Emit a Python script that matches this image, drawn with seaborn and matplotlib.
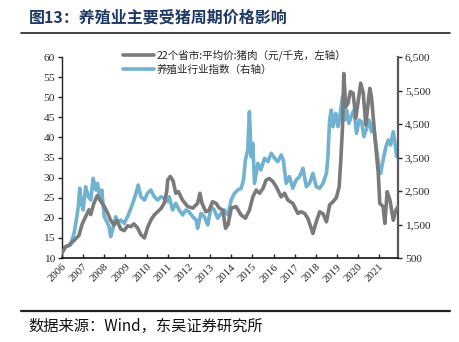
import matplotlib
matplotlib.use("Agg")
import matplotlib.pyplot as plt
import seaborn as sns
import pandas as pd
from matplotlib.lines import Line2D
from matplotlib.ticker import FuncFormatter

# ---- data (decimal year, value) ----
pork_t = [2006.0, 2006.17, 2006.33, 2006.5, 2006.65, 2006.8, 2006.96, 2007.12, 2007.28, 2007.36,
          2007.5, 2007.67, 2007.83, 2008.0, 2008.15, 2008.3, 2008.46, 2008.6, 2008.78, 2008.94,
          2009.1, 2009.26, 2009.4, 2009.57, 2009.73, 2009.9, 2010.04, 2010.2, 2010.36, 2010.52,
          2010.68, 2010.83, 2010.95, 2011.0, 2011.12, 2011.25, 2011.38, 2011.5, 2011.7, 2011.94,
          2012.18, 2012.41, 2012.52, 2012.62, 2012.8, 2012.95, 2013.12, 2013.28, 2013.44, 2013.6,
          2013.73, 2013.85, 2014.0, 2014.23, 2014.47, 2014.67, 2014.86, 2015.02, 2015.18, 2015.34,
          2015.5, 2015.65, 2015.8, 2015.97, 2016.13, 2016.36, 2016.52, 2016.68, 2016.91, 2017.15,
          2017.3, 2017.47, 2017.62, 2017.78, 2017.86, 2018.02, 2018.18, 2018.34, 2018.5, 2018.65,
          2018.81, 2018.97, 2019.1, 2019.18, 2019.26, 2019.32, 2019.41, 2019.52, 2019.63, 2019.76,
          2019.89, 2020.03, 2020.12, 2020.24, 2020.36, 2020.47, 2020.55, 2020.63, 2020.79, 2020.95,
          2021.02, 2021.18, 2021.26, 2021.37, 2021.5, 2021.66, 2021.78, 2021.88]
pork_v = [11.2, 12.8, 13.2, 14.0, 14.8, 15.6, 18.5, 20.3, 22.0, 20.8,
          23.5, 25.5, 24.2, 22.8, 21.3, 19.4, 18.2, 19.4, 17.2, 16.8,
          18.0, 17.8, 18.5, 17.5, 15.8, 15.0, 17.5, 19.4, 20.7, 21.5,
          22.3, 23.6, 26.5, 29.4, 30.3, 29.2, 26.1, 26.5, 24.4, 22.8,
          22.4, 23.6, 26.1, 23.6, 21.5, 21.9, 24.0, 23.6, 22.4, 21.9,
          17.4, 18.3, 22.4, 22.8, 20.7, 19.9, 21.9, 25.2, 26.9, 26.1,
          27.3, 29.4, 29.8, 29.0, 27.7, 25.2, 26.1, 24.4, 23.6, 21.1,
          21.5, 21.1, 19.9, 17.4, 16.1, 19.0, 21.5, 21.0, 19.0, 23.2,
          24.0, 25.0, 27.7, 34.4, 42.7, 55.9, 47.6, 48.5, 51.4, 51.0,
          44.8, 50.1, 53.5, 51.0, 43.1, 48.5, 52.2, 50.0, 40.2, 31.1,
          23.6, 22.8, 18.6, 26.5, 24.4, 19.4, 21.9, 22.8]

idx_t = [2006.0, 2006.2, 2006.4, 2006.57, 2006.68, 2006.77, 2006.84, 2006.92, 2007.0, 2007.12,
         2007.25, 2007.36, 2007.47, 2007.6, 2007.68, 2007.79, 2007.88, 2008.0, 2008.12, 2008.23,
         2008.3, 2008.39, 2008.54, 2008.62, 2008.78, 2008.94, 2009.1, 2009.26, 2009.37, 2009.5,
         2009.6, 2009.73, 2009.9, 2010.04, 2010.2, 2010.36, 2010.52, 2010.68, 2010.83, 2011.0,
         2011.07, 2011.23, 2011.38, 2011.54, 2011.7, 2011.86, 2012.0, 2012.18, 2012.34, 2012.41,
         2012.57, 2012.73, 2012.89, 2013.05, 2013.2, 2013.36, 2013.52, 2013.68, 2013.84, 2014.0,
         2014.15, 2014.31, 2014.47, 2014.58, 2014.67, 2014.78, 2014.86, 2014.94, 2015.02, 2015.1,
         2015.26, 2015.4, 2015.57, 2015.73, 2015.89, 2016.05, 2016.2, 2016.36, 2016.46, 2016.6,
         2016.75, 2016.91, 2017.07, 2017.23, 2017.39, 2017.55, 2017.7, 2017.86, 2018.02, 2018.18,
         2018.34, 2018.5, 2018.57, 2018.65, 2018.73, 2018.81, 2018.94, 2019.05, 2019.13, 2019.26,
         2019.37, 2019.45, 2019.56, 2019.69, 2019.8, 2019.92, 2020.05, 2020.16, 2020.27, 2020.4,
         2020.52, 2020.63, 2020.71, 2020.83, 2020.98, 2021.06, 2021.18, 2021.31, 2021.42, 2021.53,
         2021.66, 2021.74, 2021.82, 2021.9]
idx_v = [790, 837, 888, 1237, 1634, 2031, 2581, 2133, 1933, 2628,
         2330, 2231, 2879, 2530, 2730, 2231, 2530, 1733, 1584, 1434,
         1136, 1335, 1733, 1534, 1634, 1534, 1733, 1983, 2181, 2431,
         2679, 2330, 2231, 2431, 2530, 2330, 2231, 2330, 2280, 2181,
         2330, 1933, 2131, 1933, 1784, 1933, 1883, 1733, 1634, 1387,
         1834, 1733, 1485, 2031, 1933, 1684, 1834, 1933, 1784, 2231,
         2431, 2530, 2580, 2828, 3425, 3724, 4867, 3524, 3924, 2730,
         3327, 3128, 3476, 3377, 3625, 3476, 3377, 3575, 3426, 2730,
         2929, 2581, 2830, 2929, 3178, 2630, 2730, 3028, 2630, 2581,
         2730, 3028, 3524, 4619, 4918, 4419, 4818, 4419, 4718, 5315,
         4619, 4917, 4520, 4768, 4917, 4221, 4619, 4569, 4122, 4370,
         4619, 4271, 4520, 3924, 3227, 3028, 3426, 3823, 4022, 3873,
         4271, 3924, 3524, 3574]

years = list(range(2006, 2022))
label_pork = "22个省市:平均价:猪肉（元/千克，左轴）"
label_idx = "养殖业行业指数（右轴）"
title = "图13：养殖业主要受猪周期价格影响"
source = "数据来源：Wind，东吴证券研究所"

# ---- style ----
sns.set_style("ticks")
plt.rcParams['font.family'] = ['Liberation Serif', 'Noto Sans CJK SC', 'DejaVu Sans']
GRAY = "#7a7a7a"
BLUE = "#70b2cf"
LW = 2.6

fig = plt.figure(figsize=(4.59, 3.42), dpi=100)
ax = fig.add_axes([0.135, 0.2456, 0.732, 0.5877])
ax2 = ax.twinx()

df_p = pd.DataFrame({"t": pork_t, "v": pork_v})
df_i = pd.DataFrame({"t": idx_t, "v": idx_v})
sns.lineplot(data=df_p, x="t", y="v", ax=ax, color=GRAY, linewidth=LW, zorder=3)
sns.lineplot(data=df_i, x="t", y="v", ax=ax2, color=BLUE, linewidth=LW, zorder=2)
ax.set_zorder(ax2.get_zorder() + 1)
ax.patch.set_visible(False)

ax.set_xlim(2006, 2021.88)
ax.set_ylim(10, 60)
ax2.set_ylim(500, 6500)
ax.set_yticks(range(10, 61, 5))
ax2.set_yticks(range(500, 6501, 1000))
ax2.yaxis.set_major_formatter(FuncFormatter(lambda v, p: f"{int(v):,}"))
ax.set_xticks(years)
ax.set_xticklabels([str(y) for y in years], rotation=45, ha="right", rotation_mode="anchor")
for a in (ax, ax2):
    a.set_xlabel("")
    a.set_ylabel("")
ax.tick_params(axis="x", direction="in", length=3, width=1, labelsize=7.8, pad=3)
ax.tick_params(axis="y", direction="out", length=3, width=1, labelsize=8.2, pad=2)
ax2.tick_params(axis="y", direction="out", length=3, width=1, labelsize=8.2, pad=2)

ax.spines["top"].set_visible(False)
ax2.spines["top"].set_visible(False)
ax.spines["right"].set_visible(False)
ax2.spines["left"].set_visible(False)
ax2.spines["bottom"].set_visible(False)
ax.spines["left"].set_color("#222222")
ax.spines["bottom"].set_color("#111111")
ax.spines["left"].set_linewidth(1.0)
ax.spines["bottom"].set_linewidth(1.2)
ax2.spines["right"].set_color("#595959")
ax2.spines["right"].set_linewidth(1.6)

handles = [Line2D([0], [0], color=GRAY, lw=LW), Line2D([0], [0], color=BLUE, lw=LW)]
fig.legend(handles, [label_pork, label_idx], loc="upper left",
           bbox_to_anchor=(0.258, 0.868), frameon=False, handlelength=3.0,
           handletextpad=0.2, labelspacing=0.3, borderaxespad=0,
           prop={"family": ["Noto Sans CJK SC", "DejaVu Sans"], "size": 7.6})

fig.text(0.063, 0.948, title, fontsize=11.5, fontweight="bold", color="#1f3864",
         family=["Noto Sans CJK SC", "DejaVu Sans"], va="center", ha="left")
fig.add_artist(Line2D([0.045, 0.98], [0.904, 0.904], color="#222222", lw=1.2))
fig.add_artist(Line2D([0.045, 0.98], [0.092, 0.092], color="#222222", lw=1.6))
fig.text(0.063, 0.046, source, fontsize=11, color="#111111",
         family=["Noto Sans CJK SC", "DejaVu Sans"], va="center", ha="left")

fig.savefig("out.png", dpi=100)
